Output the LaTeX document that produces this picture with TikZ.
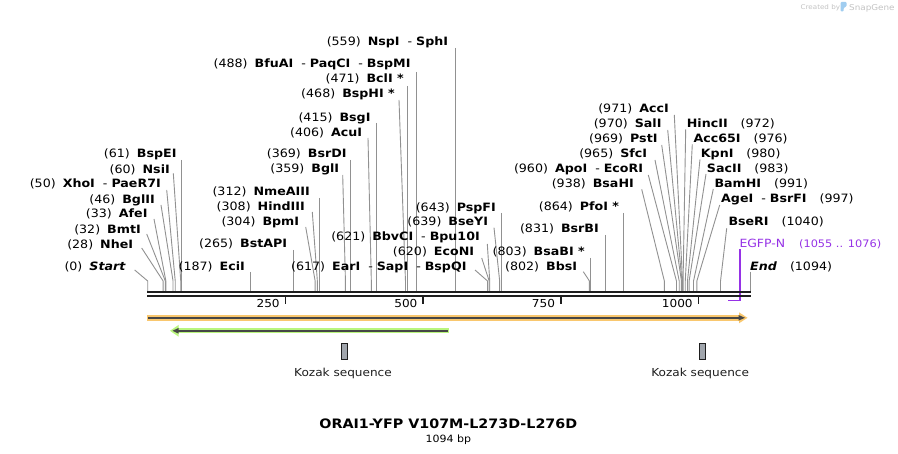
\documentclass[tikz,border=0pt]{standalone}
\usepackage{fontspec}
\setmainfont{DejaVu Sans}[FakeStretch=1.1]
\definecolor{cConn}{RGB}{145,145,145}
\definecolor{cSeq}{RGB}{30,30,30}
\definecolor{cOrange}{RGB}{249,199,110}
\definecolor{cGreen}{RGB}{185,245,125}
\definecolor{cFeat}{RGB}{70,70,70}
\definecolor{cKozak}{RGB}{160,165,172}
\definecolor{cPrimer}{RGB}{150,50,230}
\definecolor{cLogo}{RGB}{195,195,195}
\definecolor{cLogoBlue}{RGB}{160,205,240}
\newcommand\mygap{\hspace{7pt}}
\newcommand\mysep{\hspace{8pt}-\hspace{4pt}}
\newcommand\myrgap{\hspace{13pt}}
\tikzset{
  lbl/.style={font=\fontsize{11.5}{13}\selectfont, inner sep=0pt, text=black},
  sml/.style={font=\fontsize{11}{13}\selectfont, inner sep=0pt, text=black},
  cline/.style={draw=cConn, line width=0.9pt},
  seqline/.style={draw=cSeq, line width=2.5pt},
  tickmark/.style={draw=cSeq, line width=1.6pt},
}
% left-type label, slanted connector
\newcommand\cutL[7]{%
  \node[lbl,anchor=base east] (l#1) at (#2,#3+4) {#4};
  \coordinate (a#1) at (#5,#6);
  \coordinate (b#1) at ({147.7+0.5508*#7},281);
  \coordinate (s#1) at ({147.7+0.5508*#7},291);
  \draw[cline] (a#1) -- (b#1) -- (s#1);}
% left-type label, vertical connector
\newcommand\cutV[6]{%
  \node[lbl,anchor=base east] (l#1) at (#2,#3+4) {#4};
  \coordinate (a#1) at ({147.7+0.5508*#6},#5);
  \coordinate (s#1) at ({147.7+0.5508*#6},291);
  \draw[cline] (a#1) -- (s#1);}
% right-type label, slanted connector
\newcommand\cutR[7]{%
  \node[lbl,anchor=base west] (l#1) at (#2,#3+4) {#4};
  \coordinate (a#1) at (#5,#6);
  \coordinate (b#1) at ({147.7+0.5508*#7},281);
  \coordinate (s#1) at ({147.7+0.5508*#7},291);
  \draw[cline] (a#1) -- (b#1) -- (s#1);}
\begin{document}
\begin{tikzpicture}[x=1pt,y=-1pt]
\useasboundingbox (0,0) rectangle (898,454);
\fill[white] (0,0) rectangle (898,454);

% logo
\node[anchor=base west, inner sep=0pt, font=\fontsize{6.5}{7}\selectfont, text=cLogo] (cb) at (800.5,10) {Created by};
\fill[cLogoBlue, rounded corners=1pt] (840.5,2) -- (846.5,2) -- (846.5,6.5) -- (843.5,8) -- (843.5,11.5) -- (840.5,11.5) -- cycle;
\node[anchor=base west, inner sep=0pt, font=\fontsize{8}{9}\selectfont, text=cLogo] (sg) at (849,10.5) {SnapGene};

% connectors and labels
\cutL{Start}{126}{266.7}{(0)\mygap\textbf{\textit{Start}}}{134.7}{270}{0}
\cutL{NheI}{133.3}{244.3}{(28)\mygap\textbf{NheI}}{141.7}{248}{28}
\cutL{BmtI}{141}{229.3}{(32)\mygap\textbf{BmtI}}{146.7}{234}{32}
\cutL{AfeI}{147.7}{214}{(33)\mygap\textbf{AfeI}}{154}{219}{33}
\cutL{BglII}{155}{199.3}{(46)\mygap\textbf{BglII}}{161}{205}{46}
\cutL{XhoI}{161}{184}{(50)\mygap\textbf{XhoI}\mysep\textbf{PaeR7I}}{166.7}{190}{50}
\cutL{NsiI}{170}{169.3}{(60)\mygap\textbf{NsiI}}{173.3}{173.3}{60}
\cutV{BspEI}{176.7}{154}{(61)\mygap\textbf{BspEI}}{160}{61}
\cutV{EciI}{245}{266.7}{(187)\mygap\textbf{EciI}}{272}{187}
\cutV{BstAPI}{287.3}{244}{(265)\mygap\textbf{BstAPI}}{250}{265}
\cutL{BpmI}{299.3}{221.7}{(304)\mygap\textbf{BpmI}}{305.7}{227}{304}
\cutL{HindIII}{305}{206.7}{(308)\mygap\textbf{HindIII}}{312.3}{212}{308}
\cutV{NmeAIII}{310}{191.7}{(312)\mygap\textbf{NmeAIII}}{198}{312}
\cutL{BglI}{339.3}{168.3}{(359)\mygap\textbf{BglI}}{342.7}{175}{359}
\cutV{BsrDI}{346.7}{153.3}{(369)\mygap\textbf{BsrDI}}{160}{369}
\cutL{AcuI}{362.3}{132.3}{(406)\mygap\textbf{AcuI}}{368}{138}{406}
\cutV{BsgI}{370.7}{117.7}{(415)\mygap\textbf{BsgI}}{123}{415}
\cutL{BspHI}{395}{94}{(468)\mygap\textbf{BspHI *}}{399}{100}{468}
\cutV{BclI}{404}{78.3}{(471)\mygap\textbf{BclI *}}{86}{471}
\cutV{BfuAI}{410.7}{64}{(488)\mygap\textbf{BfuAI}\mysep\textbf{PaqCI}\mysep\textbf{BspMI}}{72}{488}
\cutV{NspI}{448.3}{41.7}{(559)\mygap\textbf{NspI}\mysep\textbf{SphI}}{48}{559}
\cutL{EarI}{466.7}{266.7}{(617)\mygap\textbf{EarI}\mysep\textbf{SapI}\mysep\textbf{BspQI}}{475}{270}{617}
\cutL{EcoNI}{474.3}{251.7}{(620)\mygap\textbf{EcoNI}}{481.7}{258}{620}
\cutL{BbvCI}{480}{236.7}{(621)\mygap\textbf{BbvCI}\mysep\textbf{Bpu10I}}{487.3}{244}{621}
\cutL{BseYI}{488.3}{221.7}{(639)\mygap\textbf{BseYI}}{494}{227.7}{639}
\cutV{PspFI}{496}{207.3}{(643)\mygap\textbf{PspFI}}{213}{643}
\cutL{BbsI}{577.3}{266.7}{(802)\mygap\textbf{BbsI}}{583.3}{271.7}{802}
\cutV{BsaBI}{585}{251.7}{(803)\mygap\textbf{BsaBI *}}{258}{803}
\cutV{BsrBI}{599}{228.3}{(831)\mygap\textbf{BsrBI}}{235}{831}
\cutV{PfoI}{619.3}{206.7}{(864)\mygap\textbf{PfoI *}}{213}{864}
\cutL{BsaHI}{634}{183.3}{(938)\mygap\textbf{BsaHI}}{641.7}{189.3}{938}
\cutL{ApoI}{643.3}{169}{(960)\mygap\textbf{ApoI}\mysep\textbf{EcoRI}}{648.3}{175}{960}
\cutL{SfcI}{647.3}{153.3}{(965)\mygap\textbf{SfcI}}{655}{160}{965}
\cutL{PstI}{657.7}{139}{(969)\mygap\textbf{PstI}}{661.7}{145}{969}
\cutL{SalI}{661.7}{124}{(970)\mygap\textbf{SalI}}{667.7}{130}{970}
\cutL{AccI}{669}{109}{(971)\mygap\textbf{AccI}}{674.3}{115}{971}
\cutR{HincII}{686.7}{124}{\textbf{HincII}\myrgap(972)}{685.7}{129.3}{972}
\cutR{Acc65I}{693.3}{139}{\textbf{Acc65I}\myrgap(976)}{692.3}{144.3}{976}
\cutR{KpnI}{700.7}{154}{\textbf{KpnI}\myrgap(980)}{700}{159.3}{980}
\cutR{SacII}{706.7}{169}{\textbf{SacII}\myrgap(983)}{706}{174}{983}
\cutR{BamHI}{714.3}{184}{\textbf{BamHI}\myrgap(991)}{713.3}{189}{991}
\cutR{AgeI}{721}{199}{\textbf{AgeI}\mysep\textbf{BsrFI}\myrgap(997)}{719.7}{205}{997}
\cutR{BseRI}{728.3}{222}{\textbf{BseRI}\myrgap(1040)}{726.7}{228.3}{1040}
% End
\node[lbl,anchor=base west] (lEnd) at (750,270.7) {\textbf{\textit{End}}\myrgap(1094)};
\coordinate (aEnd) at (750.3,271.7);
\coordinate (sEnd) at (750.3,291);
\draw[cline] (aEnd) -- (sEnd);

% primer EGFP-N
\node[inner sep=0pt,anchor=base west,text=cPrimer,font=\fontsize{11.3}{13}\selectfont] (lEGFP) at (739.3,248) {EGFP-N\hspace{14pt}{\fontsize{10.3}{13}\selectfont(1055 .. 1076)}};
\coordinate (pTop) at (740,249.5);
\coordinate (pCorner) at (740,300.5);
\coordinate (pEnd) at (727.7,300.5);
\draw[draw=cPrimer, line width=1.3pt] (pTop) -- (pCorner) -- (pEnd);

% sequence lines
\draw[seqline] (147,292.2) -- (751,292.2);
\draw[seqline] (147,295.9) -- (751,295.9);

% ticks
\foreach \v/\x in {250/285.4, 500/423.1, 750/560.7, 1000/698.4}{
  \draw[tickmark] (\x,297) -- (\x,304.5);
  \node[sml,anchor=base east] (t\v) at (\x-5.5,308) {\v};
}

% orange feature (forward)
\fill[cOrange] (147,315) rectangle (740,320.7);
\fill[cOrange] (739,312.3) -- (747.5,317.8) -- (739,323.3) -- cycle;
\draw[draw=cFeat, line width=1.6pt] (148,317.8) -- (741,317.8);
\fill[cFeat] (738.5,315) -- (745,317.8) -- (738.5,320.6) -- cycle;

% green feature (reverse)
\fill[cGreen] (177,328.3) rectangle (449.3,333.3);
\fill[cGreen] (178.5,325) -- (170,330.8) -- (178.5,336.6) -- cycle;
\draw[draw=cFeat, line width=1.6pt] (447.5,330.8) -- (176,330.8);
\fill[cFeat] (178.5,328) -- (172.5,330.8) -- (178.5,333.6) -- cycle;

% Kozak sequences
\node[draw=cSeq, fill=cKozak, line width=0.9pt, minimum width=6pt, minimum height=15.5pt, inner sep=0pt] (k1) at (344.3,351.3) {};
\node[draw=cSeq, fill=cKozak, line width=0.9pt, minimum width=6pt, minimum height=15.5pt, inner sep=0pt] (k2) at (702.2,351.3) {};
\node[sml,anchor=base,text=cSeq] (k1l) at (343,376.7) {Kozak sequence};
\node[sml,anchor=base,text=cSeq] (k2l) at (700.2,376.7) {Kozak sequence};

% title
\node[inner sep=0pt,anchor=base,font=\fontsize{13}{15}\selectfont\bfseries] (title) at (448.3,428.2) {ORAI1-YFP V107M-L273D-L276D};
\node[inner sep=0pt,anchor=base,font=\fontsize{10}{12}\selectfont] (bp) at (448.3,442.2) {1094 bp};
\end{tikzpicture}
\end{document}
